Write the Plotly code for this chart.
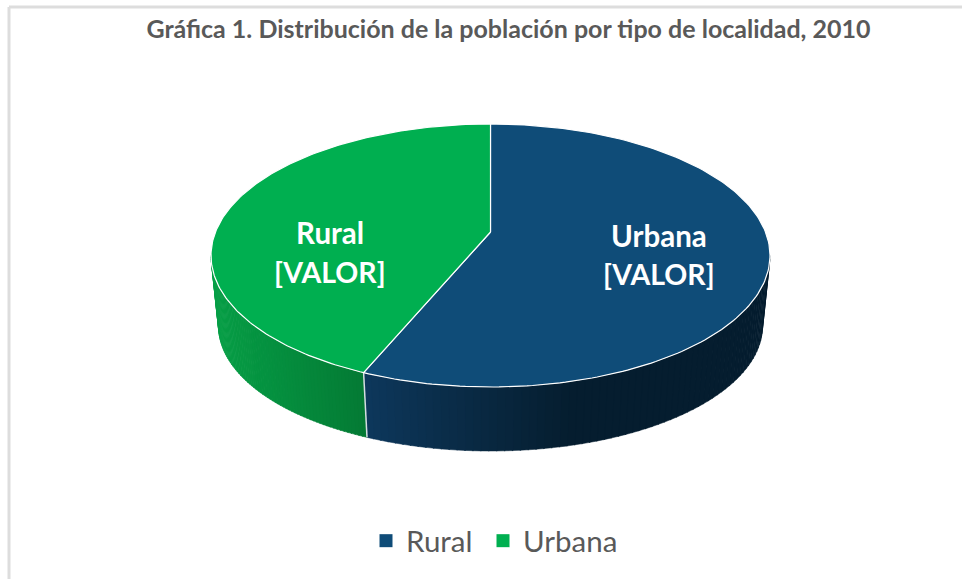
import math
import plotly.graph_objects as go

# --- data ---
categories = ["Urbana", "Rural"]
shares = [57.5, 42.5]              # % of the pie, clockwise from 12 o'clock
slice_label_lines = [["Urbana", "[VALOR]"], ["Rural", "[VALOR]"]]
legend_labels = ["Rural", "Urbana"]
legend_colors = ["#0F4C78", "#00AF50"]
title_text = "Gráfica 1. Distribución de la población por tipo de localidad, 2010"

# --- styles / geometry of the drawing ---
top_colors = {"Urbana": "#0F4C78", "Rural": "#00AF50"}
side_stops = {
    "Urbana": [(363, (13, 56, 92)), (450, (10, 44, 72)), (570, (5, 29, 47)), (770, (5, 29, 47))],
    "Rural": [(211, (6, 158, 70)), (363, (4, 122, 52))],
}
TOP = dict(cx=490.5, cy=255.5, rx=279.5, ry=131.5)
BOT = dict(cx=490.5, cy=326.0, rx=272.0, ry=125.0)
APEX = (490.5, 232.0)
legend_entry_widths = {"Rural": 72, "Urbana": 110}


def pt(e, t):
    return e["cx"] + e["rx"] * math.sin(t), e["cy"] - e["ry"] * math.cos(t)


def ramp(stops, x):
    if x <= stops[0][0]:
        return stops[0][1]
    for (x0, c0), (x1, c1) in zip(stops, stops[1:]):
        if x <= x1:
            f = (x - x0) / (x1 - x0)
            return tuple(round(a + (b - a) * f) for a, b in zip(c0, c1))
    return stops[-1][1]


fig = go.Figure()
total = sum(shares)
start = 0.0
boundaries = []
for name, share in zip(categories, shares):
    end = start + share / total * 2 * math.pi
    boundaries.append((name, start, end))
    start = end

# side wall, visible lower half only, drawn as thin gradient strips
for name, t0, t1 in boundaries:
    a, b = max(t0, math.pi / 2), min(t1, 3 * math.pi / 2)
    n = 70
    for i in range(n):
        u0 = a + (b - a) * i / n
        u1 = a + (b - a) * (i + 1) / n + (0.004 if i < n - 1 else 0)
        p = [pt(TOP, u0), pt(TOP, u1), pt(BOT, u1), pt(BOT, u0), pt(TOP, u0)]
        c = ramp(side_stops[name], (p[0][0] + p[1][0]) / 2)
        col = "rgb(%d,%d,%d)" % c
        fig.add_trace(go.Scatter(x=[q[0] for q in p], y=[q[1] for q in p], mode="lines",
                                 fill="toself", fillcolor=col, line=dict(color=col, width=0.5),
                                 hoverinfo="skip", showlegend=False))

# white seam on the wall where the slices meet
t = boundaries[0][2]
p0, p1 = pt(TOP, t), pt(BOT, t)
fig.add_trace(go.Scatter(x=[p0[0], p1[0]], y=[p0[1], p1[1]], mode="lines",
                         line=dict(color="#D5DCE2", width=1.5), hoverinfo="skip", showlegend=False))

# top face of each slice
for name, t0, t1 in boundaries:
    n = 180
    pts = [APEX] + [pt(TOP, t0 + (t1 - t0) * i / n) for i in range(n + 1)] + [APEX]
    fig.add_trace(go.Scatter(x=[q[0] for q in pts], y=[q[1] for q in pts], mode="lines",
                             fill="toself", fillcolor=top_colors[name],
                             line=dict(color="#FFFFFF", width=1.2),
                             hoverinfo="skip", showlegend=False))

# legend entries
for lab, col in zip(legend_labels, legend_colors):
    fig.add_trace(go.Scatter(x=[None], y=[None], mode="markers", name=lab,
                             legendwidth=legend_entry_widths[lab],
                             marker=dict(symbol="square", size=13, color=col)))

label_pos = {"Urbana": (658.5, 235, 274), "Rural": (330, 232, 272)}
annotations = []
for n, lines in zip(categories, slice_label_lines):
    x, y1, y2 = label_pos[n]
    for line, y, size in zip(lines, (y1, y2), (29.5, 28.5)):
        annotations.append(dict(x=x, y=y, text="<b>%s</b>" % line, showarrow=False,
                                xref="x", yref="y",
                                font=dict(family="Lato", size=size, color="#FFFFFF")))

border = dict(color="#DDDDDD", width=3)
shapes = [
    dict(type="line", xref="x", yref="y", x0=9, x1=962, y0=7, y1=7, line=border),
    dict(type="line", xref="x", yref="y", x0=9, x1=9, y0=7, y1=579, line=border),
]

fig.update_layout(
    width=962, height=579, autosize=False,
    margin=dict(l=0, r=0, t=0, b=0),
    paper_bgcolor="#FFFFFF", plot_bgcolor="#FFFFFF",
    xaxis=dict(range=[0, 962], visible=False, fixedrange=True),
    yaxis=dict(range=[579, 0], visible=False, fixedrange=True),
    title=dict(text="<b>%s</b>" % title_text, x=508.5 / 962, xanchor="center", y=1 - 29 / 579,
               yanchor="middle", font=dict(family="Lato", size=25, color="#595959")),
    legend=dict(orientation="h", x=366 / 962, xanchor="left", y=1 - 541 / 579, yanchor="middle",
                font=dict(family="Lato", size=29.5, color="#595959"),
                itemsizing="trace", itemwidth=30,
                bgcolor="rgba(0,0,0,0)"),
    annotations=annotations, shapes=shapes, showlegend=True,
)
fig.write_html("out.html", config={"displayModeBar": False},
               post_script="document.body.style.margin='0';")
